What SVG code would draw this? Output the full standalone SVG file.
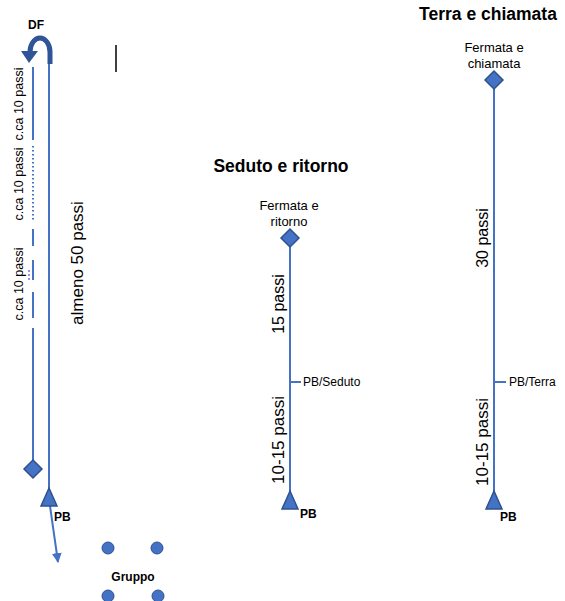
<svg xmlns="http://www.w3.org/2000/svg" width="565" height="601" viewBox="0 0 565 601">
<defs>
<style>
.ln{stroke:#4472C4;stroke-width:2;fill:none}
.dia{fill:#4472C4;stroke:#2F528F;stroke-width:1.5}
.tri{fill:#4472C4;stroke:#2F528F;stroke-width:1.5}
.t{font-family:"Liberation Sans",Arial,sans-serif;fill:#000}
.b{font-weight:bold}
.dot{fill:#4472C4;stroke:#2F528F;stroke-width:1}
</style>
<marker id="ah" viewBox="0 0 10 10" refX="9" refY="5" markerWidth="5" markerHeight="5" orient="auto">
<path d="M0,0 L10,5 L0,10 z" fill="#4472C4"/>
</marker>
</defs>
<rect width="565" height="601" fill="#fff"/>

<g id="connectors">
  <!-- left column -->
  <line class="ln" x1="49" y1="64" x2="49" y2="490"/>
  <line class="ln" x1="33" y1="67" x2="33" y2="140"/>
  <line class="ln" x1="33" y1="146" x2="33" y2="222" stroke-dasharray="1.5 2.5"/>
  <line class="ln" x1="33" y1="229" x2="33" y2="246"/>
  <line class="ln" x1="33" y1="260" x2="33" y2="280"/>
  <line class="ln" x1="33" y1="292" x2="33" y2="318"/>
  <line class="ln" x1="33" y1="328" x2="33" y2="461"/>
  <line x1="29" y1="270" x2="29" y2="282" stroke="#7B68EE" stroke-width="1.5" stroke-dasharray="2 2"/>
  <line class="ln" x1="50" y1="506" x2="58" y2="562" marker-end="url(#ah)"/>
  <!-- U-turn arrow -->
  <path d="M50,64 L50,52 A10,14 0 0 0 30,52 L30,53" fill="none" stroke="#2F5597" stroke-width="5"/>
  <polygon points="21,51 38,51 29,63" fill="#2F5597"/>
  <!-- middle column -->
  <line class="ln" x1="290" y1="246" x2="290" y2="492"/>
  <line class="ln" x1="290" y1="382" x2="301" y2="382"/>
  <!-- right column -->
  <line class="ln" x1="494" y1="88" x2="494" y2="492"/>
  <line class="ln" x1="494" y1="382" x2="506" y2="382"/>
</g>

<g id="df">
  <text class="t b" x="36" y="29" font-size="12" text-anchor="middle">DF</text>
</g>
<g id="cursor">
  <line x1="116" y1="45" x2="116" y2="72" stroke="#000" stroke-width="1.5"/>
</g>
<g id="labels-left">
  <text class="t" font-size="12.5" text-anchor="middle" transform="translate(23,104) rotate(-90)">c.ca 10 passi</text>
  <text class="t" font-size="12.5" text-anchor="middle" transform="translate(23,184) rotate(-90)">c.ca 10 passi</text>
  <text class="t" font-size="12.5" text-anchor="middle" transform="translate(23,284) rotate(-90)">c.ca 10 passi</text>
  <text class="t" font-size="17" text-anchor="middle" transform="translate(83,263) rotate(-90)">almeno 50 passi</text>
</g>
<g id="diamond-left">
  <polygon class="dia" points="33,460 42,469 33,478 24,469"/>
</g>
<g id="pb-left">
  <polygon class="tri" points="49,488 57,506 41,506"/>
  <text class="t b" x="54" y="521" font-size="12">PB</text>
</g>
<g id="gruppo">
  <circle class="dot" cx="108" cy="548" r="6"/>
  <circle class="dot" cx="157" cy="548" r="6"/>
  <circle class="dot" cx="108" cy="596" r="6"/>
  <circle class="dot" cx="158" cy="596" r="6"/>
  <text class="t b" x="133" y="581" font-size="12" text-anchor="middle">Gruppo</text>
</g>

<g id="seduto">
  <text class="t b" x="281" y="172" font-size="17.5" text-anchor="middle">Seduto e ritorno</text>
  <text class="t" x="289" y="210" font-size="13" text-anchor="middle">Fermata e</text>
  <text class="t" x="289" y="226" font-size="13" text-anchor="middle">ritorno</text>
  <polygon class="dia" points="290,229 299,238 290,247 281,238"/>
  <text class="t" font-size="16" text-anchor="middle" transform="translate(284,304) rotate(-90)">15 passi</text>
  <text class="t" x="303" y="386" font-size="12">PB/Seduto</text>
  <text class="t" font-size="17" text-anchor="middle" transform="translate(284,440) rotate(-90)">10-15 passi</text>
  <polygon class="tri" points="290,491 298,509 282,509"/>
  <text class="t b" x="300" y="518" font-size="12">PB</text>
</g>

<g id="terra">
  <text class="t b" x="488" y="20" font-size="17.5" text-anchor="middle">Terra e chiamata</text>
  <text class="t" x="494" y="52" font-size="13" text-anchor="middle">Fermata e</text>
  <text class="t" x="494" y="68" font-size="13" text-anchor="middle">chiamata</text>
  <polygon class="dia" points="494,71 503,80 494,89 485,80"/>
  <text class="t" font-size="16" text-anchor="middle" transform="translate(488,238) rotate(-90)">30 passi</text>
  <text class="t" x="509" y="386" font-size="12">PB/Terra</text>
  <text class="t" font-size="17" text-anchor="middle" transform="translate(488,442) rotate(-90)">10-15 passi</text>
  <polygon class="tri" points="494,491 502,509 486,509"/>
  <text class="t b" x="500" y="521" font-size="12">PB</text>
</g>
</svg>
